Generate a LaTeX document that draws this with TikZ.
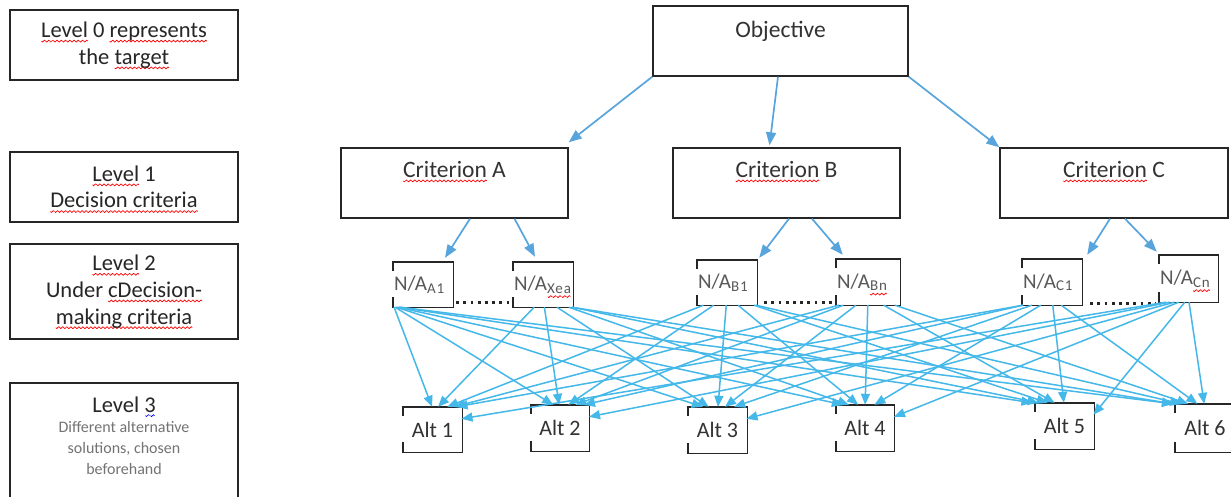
\documentclass[tikz,border=0pt]{standalone}
\usepackage{fontspec}
\setmainfont{Carlito}
\usetikzlibrary{arrows.meta,calc}
\definecolor{topblue}{RGB}{88,164,220}
\definecolor{webblue}{RGB}{68,184,232}
\newcommand\wavemark[1]{\tikz[baseline=0pt]{\useasboundingbox (0pt,0pt) rectangle (4pt,-0.5pt);\draw[#1,line width=0.7pt,line join=round] (0pt,-3.6pt) -- (1pt,-4.6pt) -- (3pt,-2.6pt) -- (4pt,-3.6pt);}}
\newsavebox\wordbox
\newcommand\wavy[2]{\sbox\wordbox{#2}\leavevmode\rlap{\hbox to \wd\wordbox{\xleaders\hbox{\wavemark{#1}}\hfill}}\usebox\wordbox}
\newcommand\spl[1]{\wavy{red}{#1}}
\newcommand\gra[1]{\wavy{blue}{#1}}
\tikzset{
  lbox/.style={draw=black!85, line width=1.6pt, minimum width=228pt, inner sep=0pt},
  mbox/.style={draw=black!85, line width=1.4pt, inner sep=0pt},
  sbox/.style={inner sep=0pt},
  boxline/.style={draw=black!85, line width=1.4pt},
  ltext/.style={align=center, font=\fontsize{22.5}{26.7}\selectfont, text=black!85},
  subtext/.style={align=center, font=\fontsize{16}{20.7}\selectfont, text=black!55},
  mtext/.style={anchor=base, inner sep=0pt, font=\fontsize{23.5}{26}\selectfont, text=black!80},
  natext/.style={anchor=base west, inner sep=0pt, font=\fontsize{21}{24}\selectfont, text=black!65},
  alttext/.style={font=\fontsize{22}{26}\selectfont, text=black!80},
  toparrow/.style={draw=topblue, line width=1.7pt, -{Triangle[length=13pt,width=10pt]}},
  web/.style={draw=webblue, line width=1.5pt, -{Triangle[length=11pt,width=9pt]}},
  dotline/.style={draw=black!85, line width=2.8pt, dash pattern=on 2.8pt off 4.4pt},
}
\newcommand\sub[1]{{\fontsize{15}{15}\selectfont\addfontfeature{LetterSpace=6}\raisebox{-2.5pt}{#1}}}
\begin{document}
\begin{tikzpicture}[x=1pt,y=-1pt]
\fill[white] (0,0) rectangle (1231,497);
\useasboundingbox (0,0) rectangle (1231,497);

% left level boxes
\node[lbox, minimum height=70pt, ltext] (L0) at (124,45) {\spl{Level} 0 \spl{represents}\\the \spl{target}};
\node[lbox, minimum height=70pt, ltext] (L1) at (124,187) {\spl{Level} 1\\\spl{Decision criteria}};
\node[lbox, minimum height=95pt, ltext] (L2) at (124,291.5) {\spl{Level} 2\\Under \spl{cDecision-}\\\spl{making criteria}};
\node[sbox, minimum width=228pt, minimum height=120pt] (L3) at (124,443) {};
\draw[boxline, line width=1.6pt] (L3.south west) -- (L3.north west) -- (L3.north east) -- (L3.south east);
\node[ltext, anchor=base] (L3a) at (124,412) {Level \gra{3}};
\node[subtext] (L3b) at (124,448) {Different alternative\\solutions, chosen\\beforehand};

% objective and criteria
\node[mbox, minimum width=255pt, minimum height=70pt] (obj) at (780.5,41) {};
\node[mtext] (objT) at ($(obj.north)+(0,32)$) {Objective};
\node[mbox, minimum width=227pt, minimum height=70pt] (critA) at (454.5,183) {};
\node[mbox, minimum width=227pt, minimum height=70pt] (critB) at (786.5,183) {};
\node[mbox, minimum width=228pt, minimum height=70pt] (critC) at (1114,183) {};
\node[mtext] (critAT) at ($(critA.north)+(0,30)$) {\spl{Criterion} A};
\node[mtext] (critBT) at ($(critB.north)+(0,30)$) {\spl{Criterion} B};
\node[mtext] (critCT) at ($(critC.north)+(0,30)$) {\spl{Criterion} C};

% sub-criteria boxes
\node[sbox, minimum width=60pt, minimum height=45pt] (A1) at (423,284.5) {};
\node[sbox, minimum width=60pt, minimum height=45pt] (Xea) at (543,284.5) {};
\node[sbox, minimum width=60pt, minimum height=45pt] (B1) at (727,282.5) {};
\node[sbox, minimum width=64pt, minimum height=46pt] (Bn) at (868,282) {};
\node[sbox, minimum width=60pt, minimum height=46pt] (C1) at (1052,282) {};
\node[sbox, minimum width=59pt, minimum height=47pt] (Cn) at (1188.5,278.5) {};
\node[natext] (A1T) at ($(A1.west)+(1,6)$) {N/A\sub{A1}};
\node[natext] (XeaT) at ($(Xea.west)+(1,6)$) {N/A\sub{\spl{Xea}}};
\node[natext] (B1T) at ($(B1.west)+(1,6)$) {N/A\sub{B1}};
\node[natext] (BnT) at ($(Bn.west)+(1,6)$) {N/A\sub{\spl{Bn}}};
\node[natext] (C1T) at ($(C1.west)+(1,6)$) {N/A\sub{C1}};
\node[natext] (CnT) at ($(Cn.west)+(1,6)$) {N/A\sub{\spl{Cn}}};

% alternatives
\node[sbox, minimum width=59pt, minimum height=45pt, alttext] (alt1) at (432.5,429.5) {Alt 1};
\node[sbox, minimum width=58pt, minimum height=46pt, alttext] (alt2) at (560,428) {Alt 2};
\node[sbox, minimum width=59pt, minimum height=46pt, alttext] (alt3) at (717.5,430) {Alt 3};
\node[sbox, minimum width=58pt, minimum height=46pt, alttext] (alt4) at (865,428) {Alt 4};
\node[sbox, minimum width=59pt, minimum height=46pt, alttext] (alt5) at (1064.5,426) {Alt 5};
\node[sbox, minimum width=60pt, minimum height=48pt, alttext] (alt6) at (1205,428) {Alt 6};

% outlines with broken left side
\foreach \n in {A1,Xea,B1,Bn,C1,Cn,alt1,alt2,alt3,alt4,alt5,alt6}{
  \draw[boxline] ($(\n.north west)+(0,9)$) -- (\n.north west) -- (\n.north east) -- (\n.south east) -- (\n.south west) -- ++(0,-10);
}

% dotted links
\draw[dotline] ($(A1.south east)+(3,-5)$) -- ($(Xea.south west)+(-2,-5)$);
\draw[dotline] ($(B1.south east)+(7,-3)$) -- ($(Bn.south west)+(-3,-3)$);
\draw[dotline] ($(C1.south east)+(8,-2)$) -- ($(Cn.south west)+(-3,1)$);

% top arrows
\draw[toparrow] (obj.south west) -- ($(critA.north east)+(0,-5)$);
\draw[toparrow] ($(obj.south)+(-2.5,0)$) -- ($(critB.north)+(-17,-2)$);
\draw[toparrow] (obj.south east) -- (critC.north west);
\draw[toparrow] ($(critA.south)+(15.5,0)$) -- ($(A1.north)+(22,-4)$);
\draw[toparrow] ($(critA.south)+(60,0)$) -- ($(Xea.north)+(-8,-5)$);
\draw[toparrow] ($(critB.south)+(2.5,0)$) -- ($(B1.north east)+(2,-2)$);
\draw[toparrow] ($(critB.south)+(25.5,0)$) -- ($(Bn.north west)+(7,-4)$);
\draw[toparrow] ($(critC.south)+(-4,0)$) -- ($(C1.north east)+(5,-4)$);
\draw[toparrow] ($(critC.south)+(11,0)$) -- ($(Cn.north west)+(-2,-3)$);

% web of arrows
\foreach \s/\sx/\sb/\sf/\sr in {A1/423/-29/0.008/0,Xea/543/0/0.08/0,B1/727/0/0.08/0,Bn/868/0/0.08/0,C1/1052/0/0.06/0,Cn/1188.5/0/0.03/1}{
  \foreach \a/\ax in {alt1/432.5,alt2/560,alt3/717.5,alt4/865,alt5/1064.5,alt6/1205}{
    \pgfmathsetmacro\so{max(-29,min(29,\sb+\sf*(\ax-\sx)))}
    \pgfmathsetmacro\ey{\sr*(\ax<1150)*12}
    \pgfmathsetmacro\ec{\ey>0 ? 29 : max(-32,min(24,0.05*(\sx-\ax)))}
    \draw[web] ($(\s.south)+(\so,0)$) -- ($(\a.north)+(\ec,\ey)$);
  }
}
\end{tikzpicture}
\end{document}
